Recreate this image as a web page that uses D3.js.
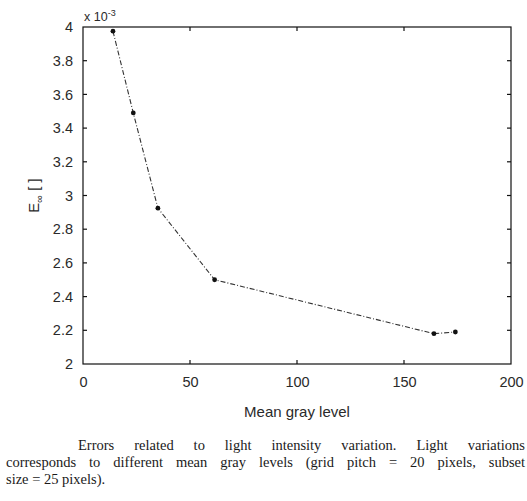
<!DOCTYPE html>
<html><head><meta charset="utf-8">
<script src="https://cdn.jsdelivr.net/npm/d3@7"></script>
<style>
html,body{margin:0;padding:0;background:#fff;overflow:hidden;}
svg{display:block;}
</style></head>
<body>
<svg id="c" width="527" height="501"></svg>
<script>
const grayLevel = [14, 23.5, 35, 61.5, 164, 174];
const errorVals = [3.975, 3.49, 2.925, 2.50, 2.18, 2.19];
const xTicks = [0, 50, 100, 150, 200];
const yTicks = [2, 2.2, 2.4, 2.6, 2.8, 3, 3.2, 3.4, 3.6, 3.8, 4];
const captionLines = [
  "Errors related to light intensity variation. Light variations",
  "corresponds to different mean gray levels (grid pitch = 20 pixels, subset",
  "size = 25 pixels)."
];

const svg = d3.select("#c");
const m = {l: 83, r: 16, t: 27, b: 137};
const W = 527, H = 501;
const x = d3.scaleLinear().domain([0, 200]).range([m.l, W - m.r]);
const y = d3.scaleLinear().domain([2, 4]).range([H - m.b, m.t]);
const txt = "#2a2a2a";
const sans = "Liberation Sans, Arial, sans-serif";
const fs = 14.5;

// frame
svg.append("rect").attr("x", x(0)).attr("y", y(4))
  .attr("width", x(200) - x(0)).attr("height", y(2) - y(4))
  .attr("fill", "none").attr("stroke", "#111").attr("stroke-width", 1.2);

const tl = 4;
const inner = xTicks.slice(1, -1);
const innerY = yTicks.slice(1, -1);
// bottom axis
const gx = svg.append("g").attr("transform", `translate(0,${y(2)})`)
  .call(d3.axisBottom(x).tickValues(xTicks).tickSize(0).tickPadding(13).tickFormat(d3.format("d")));
gx.select(".domain").remove();
gx.selectAll("text").attr("font-family", sans).attr("font-size", fs).attr("fill", txt);
// left axis
const gy = svg.append("g").attr("transform", `translate(${x(0)},0)`)
  .call(d3.axisLeft(y).tickValues(yTicks).tickSize(0).tickPadding(10).tickFormat(d => d3.format("~g")(d)));
gy.select(".domain").remove();
gy.selectAll("text").attr("font-family", sans).attr("font-size", fs).attr("fill", txt);

// inward ticks on all sides
const tk = svg.append("g").attr("stroke", "#111").attr("stroke-width", 1.2);
inner.forEach(v => {
  tk.append("line").attr("x1", x(v)).attr("x2", x(v)).attr("y1", y(2)).attr("y2", y(2) - tl);
  tk.append("line").attr("x1", x(v)).attr("x2", x(v)).attr("y1", y(4)).attr("y2", y(4) + tl);
});
innerY.forEach(v => {
  tk.append("line").attr("x1", x(0)).attr("x2", x(0) + tl).attr("y1", y(v)).attr("y2", y(v));
  tk.append("line").attr("x1", x(200)).attr("x2", x(200) - tl).attr("y1", y(v)).attr("y2", y(v));
});

// exponent label
const ex = svg.append("text").attr("x", x(0) + 1).attr("y", y(4) - 6)
  .attr("font-family", sans).attr("font-size", 12.5).attr("fill", txt);
ex.append("tspan").text("x 10");
ex.append("tspan").attr("dy", -5).attr("font-size", 9).text("-3");

// line
const data = grayLevel.map((g, i) => ({g, e: errorVals[i]}));
svg.append("path").datum(data)
  .attr("d", d3.line().x(d => x(d.g)).y(d => y(d.e)))
  .attr("fill", "none").attr("stroke", "#333").attr("stroke-width", 1.1)
  .attr("stroke-dasharray", "5,2,1,2");
svg.selectAll("circle.pt").data(data).join("circle").attr("class", "pt")
  .attr("cx", d => x(d.g)).attr("cy", d => y(d.e)).attr("r", 2.4).attr("fill", "#111");

// axis titles
svg.append("text").attr("x", (x(0) + x(200)) / 2).attr("y", 417).attr("text-anchor", "middle")
  .attr("font-family", sans).attr("font-size", 15).attr("fill", txt).text("Mean gray level");
const yt = svg.append("text").attr("transform", `translate(39,${(y(2) + y(4)) / 2}) rotate(-90)`)
  .attr("text-anchor", "middle").attr("font-family", sans).attr("font-size", 15).attr("fill", txt);
yt.append("tspan").text("E");
yt.append("tspan").attr("dy", 4).attr("font-size", 11).text("∞");
yt.append("tspan").attr("dy", -4).text(" [ ]");

// caption (justified lines)
const serif = "Liberation Serif, Times New Roman, serif";
const capSpecs = [
  {line: captionLines[0], x0: 78, x1: 525, yb: 450, justify: true},
  {line: captionLines[1], x0: 6, x1: 525, yb: 467, justify: true},
  {line: captionLines[2], x0: 6, x1: 0, yb: 484, justify: false}
];
const cap = svg.append("g").attr("font-family", serif).attr("font-size", 14.5).attr("fill", "#1a1a1a");
capSpecs.forEach(s => {
  if (!s.justify) {
    cap.append("text").attr("x", s.x0).attr("y", s.yb).text(s.line);
    return;
  }
  const words = s.line.split(" ");
  const nodes = words.map(w => cap.append("text").attr("y", s.yb).text(w));
  const widths = nodes.map(n => n.node().getComputedTextLength());
  const total = d3.sum(widths);
  const gap = (s.x1 - s.x0 - total) / (words.length - 1);
  let cx = s.x0;
  nodes.forEach((n, i) => { n.attr("x", cx); cx += widths[i] + gap; });
});
</script>
</body></html>
